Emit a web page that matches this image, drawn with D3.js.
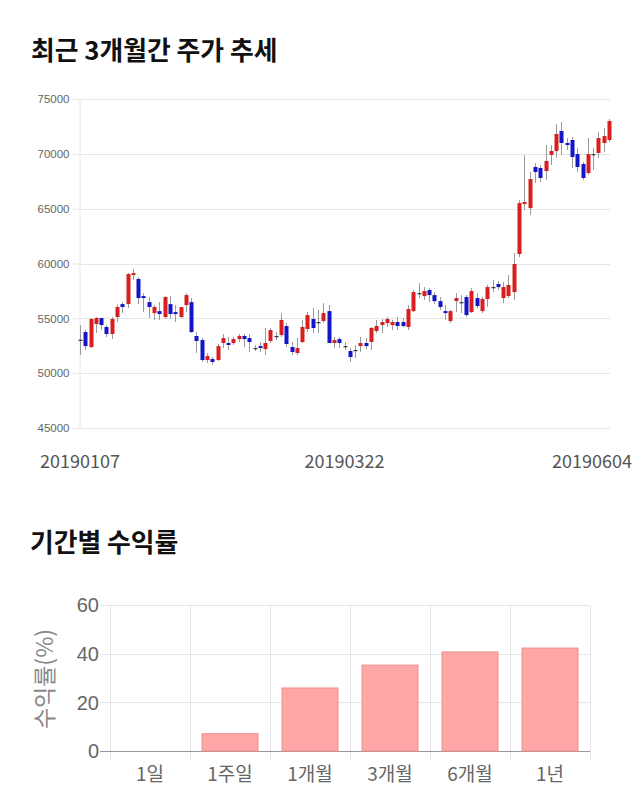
<!DOCTYPE html>
<html><head><meta charset="utf-8">
<script src="https://cdnjs.cloudflare.com/ajax/libs/d3/7.8.5/d3.min.js"></script>
<style>
html,body{margin:0;padding:0;background:#fff;}
svg{display:block;}
</style></head>
<body>
<script>
// ---- Data: daily candles (index 0 = 20190107, index 100 = 20190604) ----
const openP  = [53050,53750,52380,54480,55030,54210,53570,55120,56300,56300,58950,58590,57030,56480,55480,55660,55120,56300,55570,55120,56210,56480,
 53390,53020,51200,51290,51200,52750,52750,52750,53110,53390,53200,52290,52470,52200,52930,53390,53480,54300,52380,51840,52840,54030,
 54940,54660,54760,55660,52750,53110,52470,52020,52110,52470,52750,52840,53840,54390,54570,54390,54660,54660,54210,55660,
 57300,57030,57580,57120,56570,55660,54760,56570,56480,56940,55570,56850,55660,56760,57850,58130,56850,57030,57390,
 60860,65420,65050,68800,68710,68430,69900,70260,72080,70990,71260,69980,69070,68250,69980,70080,70990,71260];
const closeP = [52950,52470,54940,55030,54390,53570,54940,56030,56030,59040,59130,56850,56850,56030,56030,55390,56940,55390,55390,56030,57120,53750,
 52930,51200,51560,51020,52470,53200,52570,53110,53390,53110,52840,52290,52290,52750,53930,53390,54850,52660,51930,52290,54210,55300,
 54120,54660,55480,52750,53020,52750,52470,51470,52110,52750,52470,54120,54300,54660,54940,54660,54300,54300,55850,57390,
 57300,57490,57120,56570,56030,55480,55660,56850,56480,55300,57490,56120,56760,57850,57850,57850,57850,58040,59950,
 65510,65600,67700,68340,67800,69350,70260,71810,70990,70800,69710,68800,67800,69980,69890,71440,71620,72990];
const highP  = [54390,53930,55030,55120,55030,54390,55120,56300,56480,59130,59500,58770,57300,56940,56210,56480,57030,57030,56210,56030,57300,56850,
 53750,53200,51840,51470,52660,53570,53300,53300,53570,53570,53570,52570,52840,54120,54120,53750,55480,54570,52840,53200,54850,55570,
 55940,55760,56390,56210,53300,53300,52840,52290,52570,53300,53200,54210,54850,54940,55120,54850,55120,55030,56210,57580,
 58220,57850,57760,57390,56940,56210,55760,57300,57120,57120,57760,57300,56940,58040,58500,58400,58310,58950,60950,
 65780,69890,68340,69160,68980,70800,70800,72720,72900,71440,71530,70530,69250,71440,70530,71990,72350,73180];
const lowP   = [51650,52100,52290,53660,53930,53290,53110,54660,55480,55940,58500,56300,55570,55030,54850,54850,54940,54940,54660,55030,55570,53660,
 51840,51020,50930,50740,51110,52290,52110,52570,52840,52380,51930,52020,51930,51650,52750,53020,53300,52380,51650,51650,52750,53750,
 53660,53660,54570,52750,52290,52290,52110,51020,51380,51930,52200,52110,53660,53660,54210,53930,53930,54210,53930,55570,
 56850,56670,56480,56300,55760,54850,54570,55570,55480,55120,55480,55940,55480,56030,57390,57580,56390,56850,56670,
 60590,64880,64420,67340,67430,67610,68980,69620,69900,70350,68710,68340,67610,68070,68530,69620,70170,71080];
const dateTickIdx = [0, 50, 100];
const dateTickLabels = ["20190107", "20190322", "20190604"];
const priceTicks = [45000, 50000, 55000, 60000, 65000, 70000, 75000];

// ---- Data: period returns ----
const periods = ["1일", "1주일", "1개월", "3개월", "6개월", "1년"];
const returns = [0, 7.1, 25.9, 35.3, 40.7, 42.3];
const returnTicks = [0, 20, 40, 60];

const W = 640, H = 810;
const svg = d3.select("body").append("svg").attr("width", W).attr("height", H);
const KFONT = "'Noto Sans CJK KR','Noto Sans',sans-serif";
const NFONT = "'Liberation Sans',Arial,sans-serif";

// Titles
svg.append("text").attr("x", 31).attr("y", 60).text("최근 3개월간 주가 추세")
  .attr("font-family", KFONT).attr("font-weight", 700).attr("font-size", 25.8).attr("fill", "#111");
svg.append("text").attr("x", 30).attr("y", 552).text("기간별 수익률")
  .attr("font-family", KFONT).attr("font-weight", 700).attr("font-size", 25.8).attr("fill", "#111");

// ---- Candlestick chart ----
const idx = d3.range(openP.length);
const x = d3.scaleBand().domain(idx).range([77.35, 611.65]).paddingInner(0.25).paddingOuter(0.125);
const y = d3.scaleLinear().domain([45000, 75000]).range([428, 99]);
const plotL = 79, plotR = 610;

const g1 = svg.append("g");
g1.selectAll("line.grid").data(priceTicks).join("line")
  .attr("x1", plotL).attr("x2", plotR).attr("y1", d => Math.round(y(d)) + 0.5).attr("y2", d => Math.round(y(d)) + 0.5)
  .attr("stroke", "#e6e6e6");
const yAxis = g1.append("g").attr("transform", `translate(${plotL + 0.5},0)`)
  .call(d3.axisLeft(y).tickValues(priceTicks).tickFormat(d3.format("d")).tickSize(7).tickPadding(3));
yAxis.select(".domain").attr("stroke", "#e6e6e6");
yAxis.selectAll(".tick line").attr("stroke", "#e6e6e6");
yAxis.selectAll(".tick text").attr("font-family", NFONT).attr("font-size", 11.5).attr("fill", "#666");

const cx = i => x(i) + x.bandwidth() / 2;
const candles = g1.append("g");
candles.selectAll("line.wick").data(idx).join("line")
  .attr("x1", i => Math.round(cx(i)) + 0.5).attr("x2", i => Math.round(cx(i)) + 0.5)
  .attr("y1", i => y(highP[i])).attr("y2", i => y(lowP[i]))
  .attr("stroke", "#9a9a9a").attr("stroke-width", 1);
candles.selectAll("rect.body").data(idx).join("rect")
  .attr("x", i => Math.round(cx(i)) - 1.5)
  .attr("width", 4)
  .attr("y", i => y(Math.max(openP[i], closeP[i])))
  .attr("height", i => Math.max(1.2, Math.abs(y(openP[i]) - y(closeP[i]))))
  .attr("fill", i => Math.abs(closeP[i] - openP[i]) < 150 ? "#333" : (closeP[i] > openP[i] ? "#d81e1e" : "#1414c8"));

// date labels
g1.selectAll("text.date").data(dateTickIdx).join("text")
  .attr("x", (d, k) => k === 2 ? 632 : cx(d))
  .attr("text-anchor", (d, k) => k === 2 ? "end" : "middle")
  .attr("y", 468)
  .text((d, k) => dateTickLabels[k])
  .attr("font-family", KFONT).attr("font-size", 18).attr("fill", "#555");

// ---- Returns bar chart ----
const xb = d3.scaleBand().domain(periods).range([110, 590]).paddingInner(0.3).paddingOuter(0.15);
const yb = d3.scaleLinear().domain([0, 60]).range([751, 605]);
const g2 = svg.append("g");
const bounds = d3.range(periods.length + 1).map(k => 110 + k * xb.step());
g2.selectAll("line.vg").data(bounds).join("line")
  .attr("x1", d => Math.round(d) + 0.5).attr("x2", d => Math.round(d) + 0.5)
  .attr("y1", yb(60)).attr("y2", 760).attr("stroke", "#e6e6e6");
g2.selectAll("line.hg").data(returnTicks).join("line")
  .attr("x1", 100).attr("x2", 590)
  .attr("y1", d => Math.round(yb(d)) + 0.5).attr("y2", d => Math.round(yb(d)) + 0.5)
  .attr("stroke", d => d === 0 ? "#999" : "#e6e6e6");
g2.selectAll("rect.bar").data(periods).join("rect")
  .attr("x", d => xb(d)).attr("width", xb.bandwidth())
  .attr("y", (d, i) => yb(returns[i])).attr("height", (d, i) => yb(0) - yb(returns[i]))
  .attr("fill", "#ffa6a6").attr("stroke", "#f08f8f").attr("stroke-width", 1)
  .attr("display", (d, i) => returns[i] > 0 ? null : "none");
g2.selectAll("text.yt").data(returnTicks).join("text")
  .attr("x", 99).attr("y", d => yb(d)).attr("dy", "0.36em").attr("text-anchor", "end")
  .text(d => d).attr("font-family", NFONT).attr("font-size", 20).attr("fill", "#666");
g2.selectAll("text.xt").data(periods).join("text")
  .attr("x", d => xb(d) + xb.bandwidth() / 2).attr("y", 781).attr("text-anchor", "middle")
  .text(d => d).attr("font-family", KFONT).attr("font-size", 19).attr("fill", "#666");
g2.append("text").attr("transform", "translate(53,679) rotate(-90)").attr("text-anchor", "middle")
  .text("수익률(%)").attr("font-family", KFONT).attr("font-size", 23).attr("fill", "#888");
</script>
</body></html>
